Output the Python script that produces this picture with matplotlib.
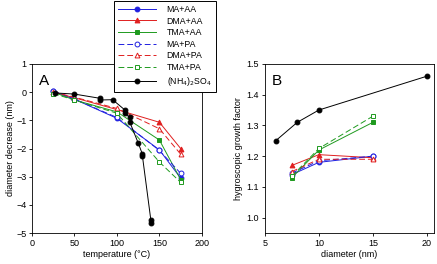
import matplotlib
matplotlib.use("Agg")
import matplotlib.pyplot as plt
from matplotlib.lines import Line2D

plt.rcParams['font.family'] = ['Liberation Sans', 'DejaVu Sans']
plt.rcParams['font.size'] = 6.5

# Panel A: temperature (°C) vs diameter decrease (nm)
temp = [25, 50, 100, 150, 175]
ma_aa_A = [0.03, -0.25, -0.93, -2.05, -3.05]
dma_aa_A = [0.0, -0.2, -0.62, -1.07, -2.0]
tma_aa_A = [0.0, -0.28, -0.7, -1.7, -3.1]
ma_pa_A = [0.05, -0.25, -0.9, -2.07, -2.88]
dma_pa_A = [0.0, -0.18, -0.58, -1.3, -2.2]
tma_pa_A = [-0.05, -0.28, -0.75, -2.48, -3.2]
as_temp = [27, 50, 80, 80, 95, 110, 110, 115, 115, 125, 130, 130, 140, 140]
as_A = [-0.03, -0.07, -0.22, -0.28, -0.27, -0.65, -0.75, -0.9, -1.05, -1.8, -2.2, -2.26, -4.55, -4.65]

# Panel B: diameter (nm) vs hygroscopic growth factor
diam = [7.5, 10, 15]
ma_aa_B = [1.14, 1.18, 1.2]
dma_aa_B = [1.17, 1.205, 1.195]
tma_aa_B = [1.13, 1.22, 1.31]
ma_pa_B = [1.145, 1.185, 1.2]
dma_pa_B = [1.15, 1.19, 1.19]
tma_pa_B = [1.135, 1.225, 1.33]
as_diam = [6, 8, 10, 20]
as_B = [1.25, 1.31, 1.35, 1.46]

labels = ['MA+AA', 'DMA+AA', 'TMA+AA', 'MA+PA', 'DMA+PA', 'TMA+PA', '(NH$_4$)$_2$SO$_4$']
colors = ['#1f1fe0', '#e01f1f', '#1f9a1f', '#1f1fe0', '#e01f1f', '#1f9a1f', 'black']
markers = ['o', '^', 's', 'o', '^', 's', 'o']
filled = [True, True, True, False, False, False, True]
dashed = [False, False, False, True, True, True, False]

fig = plt.figure(figsize=(4.37, 2.64), dpi=100)
axA = fig.add_axes([0.073, 0.117, 0.389, 0.641])
axB = fig.add_axes([0.606, 0.117, 0.387, 0.641])

A_series = [ma_aa_A, dma_aa_A, tma_aa_A, ma_pa_A, dma_pa_A, tma_pa_A]
B_series = [ma_aa_B, dma_aa_B, tma_aa_B, ma_pa_B, dma_pa_B, tma_pa_B]

def style(i):
    return dict(color=colors[i], marker=markers[i], markersize=3.5, lw=0.7,
                ls=(0, (6, 3)) if dashed[i] else '-',
                mfc=colors[i] if filled[i] else 'white', mec=colors[i], mew=0.7)

for i in range(6):
    axA.plot(temp, A_series[i], **style(i))
    axB.plot(diam, B_series[i], **style(i))
axA.plot(as_temp, as_A, **style(6))
axB.plot(as_diam, as_B, **style(6))

axA.set_xlim(0, 200)
axA.set_ylim(-5, 1)
axA.set_xticks([0, 50, 100, 150, 200])
axA.set_yticks([-5, -4, -3, -2, -1, 0, 1])
axA.set_xlabel('temperature (°C)', labelpad=1.5)
axA.set_ylabel('diameter decrease (nm)', labelpad=1)
axA.text(0.04, 0.94, 'A', transform=axA.transAxes, fontsize=11, va='top', ha='left')

axB.set_xlim(5, 20.65)
axB.set_ylim(0.95, 1.5)
axB.set_xticks([5, 10, 15, 20])
axB.set_yticks([1.0, 1.1, 1.2, 1.3, 1.4, 1.5])
axB.set_yticklabels(['1.0', '1.1', '1.2', '1.3', '1.4', '1.5'])
axB.set_xlabel('diameter (nm)', labelpad=1.5)
axB.set_ylabel('hygroscopic growth factor', labelpad=3)
axB.text(0.04, 0.94, 'B', transform=axB.transAxes, fontsize=11, va='top', ha='left')

for ax in (axA, axB):
    ax.tick_params(direction='out', length=2.5, width=0.6, pad=1.5, labelsize=6.5)
    for s in ax.spines.values():
        s.set_linewidth(0.6)

handles = [Line2D([0], [0], **style(i)) for i in range(7)]
leg = fig.legend(handles, labels, loc='upper left', bbox_to_anchor=(0.261, 0.998),
                 borderaxespad=0, frameon=True, fancybox=False, edgecolor='black',
                 framealpha=1, fontsize=6.3, handlelength=4.3, labelspacing=0.3,
                 borderpad=0.5, handletextpad=1.2)
leg.get_frame().set_linewidth(0.7)

fig.savefig('out.png', dpi=100)
